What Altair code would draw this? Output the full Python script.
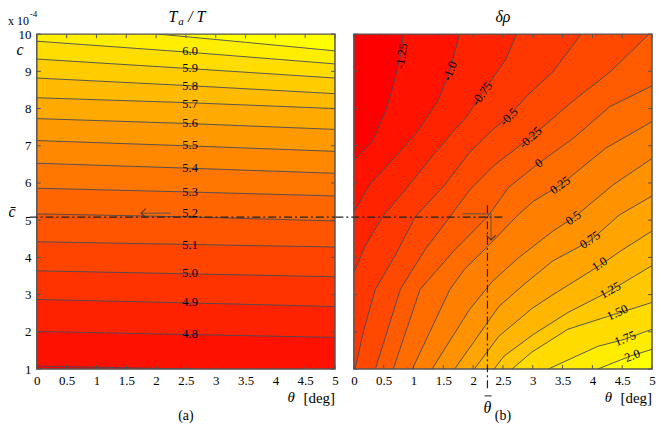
import altair as alt
import pandas as pd

W, H = 300, 337
FONT = "Liberation Serif"

# ---------------- shared axis data ----------------
x_ticks = [0, 0.5, 1, 1.5, 2, 2.5, 3, 3.5, 4, 4.5, 5]
y_ticks = [1, 2, 3, 4, 5, 6, 7, 8, 9, 10]

c_bar = 5.08
theta_bar = 2.24

# ---------------- panel (a): Ta / T ----------------
ta_levels = [4.7, 4.8, 4.9, 5.0, 5.1, 5.2, 5.3, 5.4, 5.5, 5.6, 5.7, 5.8, 5.9, 6.0, 6.1]
ta_theta = [
    [0, 1.3, 2.7],
    [0, 2.5, 5], [0, 2.5, 5], [0, 2.5, 5], [0, 2.5, 5], [0, 2.5, 5], [0, 2.5, 5],
    [0, 2.5, 5], [0, 2.5, 5], [0, 2.5, 5], [0, 2.5, 5], [0, 2.5, 5], [0, 2.5, 5],
    [0, 2.5, 5],
    [2.04, 3.5, 5],
]
ta_c = [
    [1.08, 1.04, 1.00],
    [2.01, 1.93, 1.85],
    [2.87, 2.78, 2.68],
    [3.64, 3.56, 3.48],
    [4.42, 4.35, 4.28],
    [5.17, 5.09, 4.98],
    [5.86, 5.76, 5.65],
    [6.53, 6.40, 6.26],
    [7.14, 7.00, 6.85],
    [7.73, 7.60, 7.44],
    [8.29, 8.16, 8.00],
    [8.82, 8.62, 8.40],
    [9.33, 9.08, 8.82],
    [9.81, 9.52, 9.20],
    [10.0, 9.78, 9.55],
]
ta_label_text = ["4.8", "4.9", "5.0", "5.1", "5.2", "5.3", "5.4", "5.5", "5.6", "5.7", "5.8", "5.9", "6.0"]
ta_label_theta = [2.57] * 13
ta_label_c = [1.93, 2.79, 3.59, 4.34, 5.20, 5.75, 6.39, 7.01, 7.60, 8.13, 8.61, 9.09, 9.55]

# ---------------- panel (b): delta rho ----------------
dr_levels = [-1.25, -1.0, -0.75, -0.5, -0.25, 0, 0.25, 0.5, 0.75, 1.0, 1.25, 1.5, 1.75, 2.0]
dr_theta = [
    [0.0, 0.31, 0.53, 0.66, 0.78, 0.83],
    [0.0, 0.28, 0.61, 1.08, 1.41, 1.61, 1.77],
    [0.0, 0.20, 0.48, 0.86, 1.23, 1.61, 1.89, 2.15, 2.55, 2.73],
    [0.02, 0.17, 0.36, 0.70, 1.03, 1.52, 1.94, 2.35, 2.60, 2.90, 3.34, 3.81],
    [0.36, 0.78, 1.19, 1.61, 1.94, 2.35, 2.96, 3.68, 4.30, 4.95],
    [0.66, 1.11, 1.69, 2.24, 2.60, 3.10, 3.68, 4.29, 5.0],
    [0.98, 1.61, 1.85, 2.27, 2.72, 3.01, 3.46, 4.22, 5.0],
    [1.31, 1.94, 2.32, 2.76, 3.34, 3.68, 4.34, 5.0],
    [1.69, 2.43, 2.85, 3.34, 3.96, 4.45, 5.0],
    [2.02, 2.43, 2.98, 3.34, 4.12, 4.50, 5.0],
    [2.35, 2.52, 3.01, 3.59, 4.25, 5.0],
    [2.65, 2.98, 3.59, 4.25, 5.0],
    [3.26, 4.09, 4.54, 5.0],
    [4.09, 4.64, 5.0],
]
dr_c = [
    [6.61, 7.12, 7.92, 8.61, 9.41, 10.0],
    [5.22, 5.99, 6.55, 7.41, 8.21, 9.01, 10.0],
    [3.59, 4.34, 5.09, 5.81, 6.55, 7.28, 7.78, 8.40, 9.33, 10.0],
    [1.00, 2.07, 3.14, 4.07, 5.09, 5.94, 6.82, 7.46, 7.78, 8.34, 8.99, 10.0],
    [1.00, 3.14, 4.20, 5.09, 5.81, 6.47, 7.22, 8.21, 8.99, 10.0],
    [1.00, 3.14, 4.20, 5.09, 5.89, 6.53, 7.20, 8.05, 8.61],
    [1.00, 3.14, 3.67, 4.34, 5.09, 5.51, 5.94, 6.93, 7.65],
    [1.00, 2.60, 3.35, 3.99, 4.71, 5.06, 5.94, 6.66],
    [1.00, 2.68, 3.27, 3.91, 4.44, 5.14, 5.65],
    [1.00, 1.88, 2.62, 3.00, 3.78, 4.20, 4.71],
    [1.00, 1.35, 1.93, 2.52, 3.06, 3.78],
    [1.00, 1.45, 2.07, 2.41, 2.79],
    [1.00, 1.61, 1.80, 2.07],
    [1.00, 1.35, 1.53],
]
dr_label_text = ["-1.25", "-1.0", "-0.75", "-0.5", "-0.25", "0", "0.25", "0.5", "0.75", "1.0", "1.25", "1.50", "1.75", "2.0"]
dr_label_theta = [0.80, 1.61, 2.15, 2.60, 2.96, 3.10, 3.46, 3.68, 3.96, 4.12, 4.30, 4.42, 4.55, 4.67]
dr_label_c = [9.41, 9.01, 8.40, 7.78, 7.22, 6.53, 5.94, 5.06, 4.47, 3.82, 3.12, 2.52, 1.82, 1.36]
dr_label_angle = [278, 292, 307, 315, 318, 323, 324, 323, 326, 327, 331, 335, 338, 339]

# ---------------- helpers ----------------
xs = alt.Scale(domain=[0, 5], nice=False, zero=False)
ys = alt.Scale(domain=[1, 10], nice=False, zero=False)
x_axis = alt.Axis(values=x_ticks, format="~g", ticks=False, domain=False, grid=False,
                  labelPadding=6, labelFlush=False)
y_axis_left = alt.Axis(values=y_ticks, format="d", ticks=False, domain=False, grid=False,
                       labelPadding=6)
one = pd.DataFrame({"k": [0]})


def band_colors(n):
    return ["#ff%02x00" % round(255 * i / (n - 1)) for i in range(n)]


def panel(levels, thetas, cs, fill_to, lab_text, lab_theta, lab_c, lab_angle, y_axis):
    X = lambda f: alt.X(f, type="quantitative", scale=xs, axis=x_axis, title=None)
    Y = lambda f: alt.Y(f, type="quantitative", scale=ys, axis=y_axis, title=None)
    colors = band_colors(len(levels) + 1)
    layers = []
    # lowest band
    layers.append(alt.Chart(one).mark_rect(color=colors[0]).encode(
        x=alt.value(0), x2=alt.value(W), y=alt.value(0), y2=alt.value(H)))
    # filled bands (region on the higher-value side of each contour)
    for k, (th, cc) in enumerate(zip(thetas, cs)):
        pts = sorted(zip(th, cc))
        if pts[-1][0] < 5:
            pts.append((5.0, pts[-1][1]))
        df = pd.DataFrame({"theta": [p[0] for p in pts], "c": [p[1] for p in pts],
                           "cedge": [fill_to] * len(pts)})
        layers.append(alt.Chart(df).mark_area(fill=colors[k + 1], opacity=1, clip=True,
                                              orient="vertical").encode(
            x=X("theta"), y=Y("c"), y2="cedge:Q"))
    # contour lines
    rows = []
    for lv, th, cc in zip(levels, thetas, cs):
        for i, (t, c) in enumerate(zip(th, cc)):
            rows.append({"level": str(lv), "theta": t, "c": c, "i": i})
    layers.append(alt.Chart(pd.DataFrame(rows)).mark_line(
        color="#434a58", strokeWidth=0.9, clip=True).encode(
        x=X("theta"), y=Y("c"), detail="level:N", order="i:Q"))
    # contour labels
    ldf = pd.DataFrame({"t": lab_text, "theta": lab_theta, "c": lab_c, "a": lab_angle})
    layers.append(alt.Chart(ldf).mark_text(font=FONT, fontSize=12.5, color="black").encode(
        x=X("theta"), y=Y("c"), text="t:N", angle=alt.Angle("a:Q", scale=None)))
    # inward ticks
    xt = pd.DataFrame({"theta": x_ticks})
    yt = pd.DataFrame({"c": y_ticks})
    tick = dict(color="#555555", strokeWidth=1)
    layers.append(alt.Chart(xt).mark_rule(**tick).encode(x=X("theta"), y=alt.value(H), y2=alt.value(H - 4)))
    layers.append(alt.Chart(xt).mark_rule(**tick).encode(x=X("theta"), y=alt.value(0), y2=alt.value(4)))
    layers.append(alt.Chart(yt).mark_rule(**tick).encode(y=Y("c"), x=alt.value(0), x2=alt.value(4)))
    layers.append(alt.Chart(yt).mark_rule(**tick).encode(y=Y("c"), x=alt.value(W), x2=alt.value(W - 4)))
    # frame
    layers.append(alt.Chart(one).mark_rect(fillOpacity=0, stroke="#555555", strokeWidth=1.5).encode(
        x=alt.value(0), x2=alt.value(W), y=alt.value(0), y2=alt.value(H)))
    # x-axis title
    layers.append(alt.Chart(one).mark_text(text="[deg]", font=FONT, fontSize=15, align="right").encode(
        x=alt.value(W), y=alt.value(366)))
    layers.append(alt.Chart(one).mark_text(text="θ", font=FONT, fontSize=15, fontStyle="italic",
                                           align="center").encode(x=alt.value(W - 44), y=alt.value(365)))
    return layers, X, Y


dash = dict(strokeDash=[8, 3, 2, 3], color="#222222", strokeWidth=1.2)
arrow = dict(color="#555555", strokeWidth=1)
txt = lambda s, **kw: alt.Chart(one).mark_text(text=s, font=FONT, **kw)

# ----- left panel -----
L, XL, YL = panel(ta_levels, ta_theta, ta_c, 10, ta_label_text, ta_label_theta, ta_label_c,
                  [0] * 13, y_axis_left)
L.append(alt.Chart(pd.DataFrame({"theta": [-0.12], "theta2": [5.0], "c": [c_bar]})).mark_rule(**dash).encode(
    x=XL("theta"), x2="theta2:Q", y=YL("c")))
L.append(alt.Chart(pd.DataFrame({"theta": [1.75], "theta2": [2.25], "c": [5.19]})).mark_rule(**arrow).encode(
    x=XL("theta"), x2="theta2:Q", y=YL("c")))
L.append(alt.Chart(pd.DataFrame({"theta": [1.75], "c": [5.19]})).mark_point(
    shape="M1,-1L0,0L1,1", size=90, filled=False, strokeWidth=1.2, color="#222222").encode(
    x=XL("theta"), y=YL("c")))
L.append(txt("T", fontSize=16, fontStyle="italic").encode(x=alt.value(W / 2 - 13), y=alt.value(-17)))
L.append(txt("a", fontSize=11, fontStyle="italic").encode(x=alt.value(W / 2 - 5), y=alt.value(-12)))
L.append(txt("/ T", fontSize=16, fontStyle="italic").encode(x=alt.value(W / 2 + 11), y=alt.value(-17)))
L.append(txt("x 10", fontSize=12, align="left").encode(x=alt.value(-29), y=alt.value(-13)))
L.append(txt("-4", fontSize=9, align="left").encode(x=alt.value(-7), y=alt.value(-20)))
L.append(txt("c", fontSize=16, fontStyle="italic").encode(x=alt.value(-17), y=alt.value(16)))
L.append(txt("c̄", fontSize=16, fontStyle="italic").encode(x=alt.value(-25), y=alt.value(179)))
L.append(txt("(a)", fontSize=14).encode(x=alt.value(W / 2), y=alt.value(384)))

# ----- right panel -----
R, XR, YR = panel(dr_levels, dr_theta, dr_c, 1, dr_label_text, dr_label_theta, dr_label_c,
                  dr_label_angle, None)
R.append(alt.Chart(pd.DataFrame({"theta": [-0.31], "theta2": [2.52], "c": [c_bar]})).mark_rule(**dash).encode(
    x=XR("theta"), x2="theta2:Q", y=YR("c")))
R.append(alt.Chart(pd.DataFrame({"theta": [theta_bar], "c": [5.40], "c2": [0.45]})).mark_rule(**dash).encode(
    x=XR("theta"), y=YR("c"), y2="c2:Q"))
R.append(alt.Chart(pd.DataFrame({"theta": [1.82], "theta2": [2.30], "c": [5.17]})).mark_rule(**arrow).encode(
    x=XR("theta"), x2="theta2:Q", y=YR("c")))
R.append(alt.Chart(pd.DataFrame({"theta": [2.30], "c": [5.17], "c2": [4.47]})).mark_rule(**arrow).encode(
    x=XR("theta"), y=YR("c"), y2="c2:Q"))
R.append(alt.Chart(pd.DataFrame({"theta": [2.30], "c": [4.47]})).mark_point(
    shape="M-1,-1L0,0L1,-1", size=90, filled=False, strokeWidth=1.2, color="#222222").encode(
    x=XR("theta"), y=YR("c")))
R.append(alt.Chart(pd.DataFrame({"theta": [theta_bar]})).mark_text(
    text="θ", font=FONT, fontSize=16, fontStyle="italic").encode(x=XR("theta"), y=alt.value(376)))
R.append(alt.Chart(pd.DataFrame({"theta": [theta_bar - 0.05], "theta2": [theta_bar + 0.07]})).mark_rule(
    color="#222222", strokeWidth=1).encode(x=XR("theta"), x2="theta2:Q", y=alt.value(364)))
R.append(txt("δρ", fontSize=16, fontStyle="italic").encode(x=alt.value(W / 2), y=alt.value(-17)))
R.append(txt("(b)", fontSize=14).encode(x=alt.value(W / 2), y=alt.value(384)))

left = alt.layer(*L).properties(width=W, height=H)
right = alt.layer(*R).properties(width=W, height=H)

chart = alt.hconcat(left, right, spacing=19, bounds="flush",
                    padding={"left": 0, "top": 0, "right": 0, "bottom": 0}).configure_view(
    strokeWidth=0).configure_axis(labelFont=FONT, labelFontSize=13, labelColor="black")

chart.save("out.html", embed_options={"renderer": "svg", "actions": False})
